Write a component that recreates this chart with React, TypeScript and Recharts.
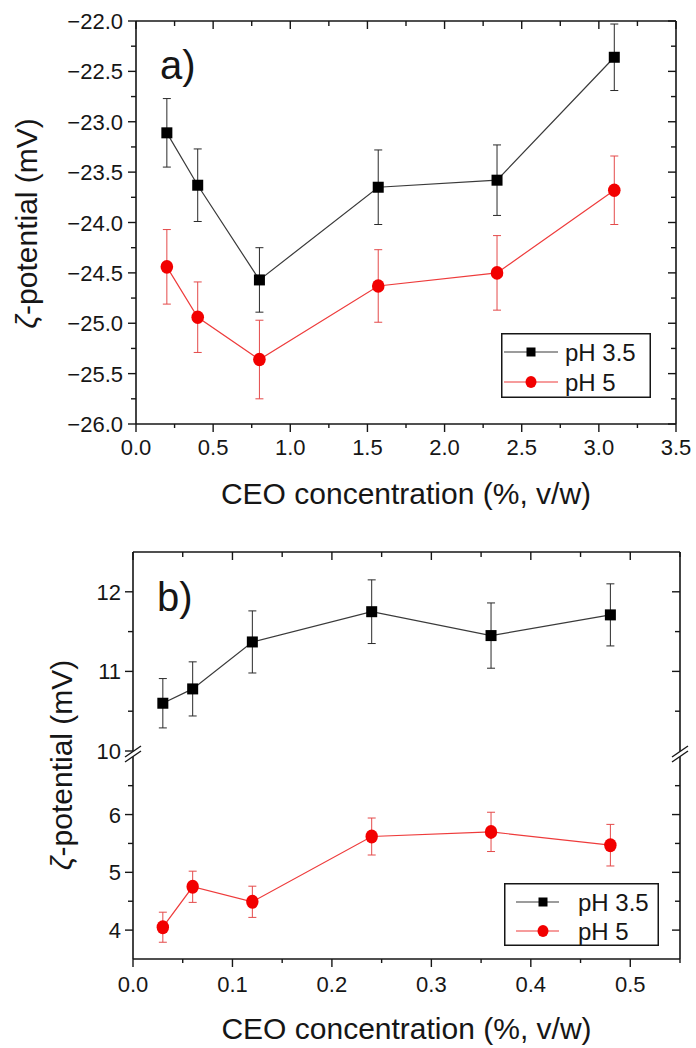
import React from 'react';
import { LineChart, Line, XAxis, YAxis, ErrorBar, Legend, Label } from 'recharts';

const FONT = '"Liberation Sans", Arial, Helvetica, sans-serif';
const INK = '#161616';

// ---------------- panel a data ----------------
const concA = [0.2, 0.4, 0.8, 1.57, 2.34, 3.1];
const zetaA_pH35 = [-23.11, -23.63, -24.57, -23.65, -23.58, -22.36];
const errA_pH35 = [0.34, 0.36, 0.32, 0.37, 0.35, 0.33];
const zetaA_pH5 = [-24.44, -24.94, -25.36, -24.63, -24.5, -23.68];
const errA_pH5 = [0.37, 0.35, 0.39, 0.36, 0.37, 0.34];

// ---------------- panel b data ----------------
const concB = [0.03, 0.06, 0.12, 0.24, 0.36, 0.48];
const zetaB_pH35 = [10.6, 10.78, 11.37, 11.75, 11.45, 11.71];
const errB_pH35 = [0.31, 0.34, 0.39, 0.4, 0.41, 0.39];
const zetaB_pH5 = [4.05, 4.75, 4.49, 5.62, 5.7, 5.47];
const errB_pH5 = [0.26, 0.27, 0.27, 0.32, 0.34, 0.36];

// ---------------- series & ticks ----------------
const seriesNames = ['pH 3.5', 'pH 5'];
const markerColors = ['#000000', '#f20000'];
const lineColors = ['#3a3a3a', '#ee3b3b'];
const errColors = ['#2a2a2a', '#e44a4a'];

const xTicksA = [0, 0.25, 0.5, 0.75, 1, 1.25, 1.5, 1.75, 2, 2.25, 2.5, 2.75, 3, 3.25, 3.5];
const yTicksA = [-26, -25.75, -25.5, -25.25, -25, -24.75, -24.5, -24.25, -24, -23.75, -23.5, -23.25, -23, -22.75, -22.5, -22.25, -22];
const xTicksB = [0, 0.05, 0.1, 0.15, 0.2, 0.25, 0.3, 0.35, 0.4, 0.45, 0.5, 0.55];
const yTicksBHigh = [10, 10.5, 11, 11.5, 12];
const yTicksBLow = [4, 4.5, 5, 5.5, 6, 6.5, 7.1];
const xDomainA = [0, 3.5];
const yDomainA = [-26, -22];
const xDomainB = [0, 0.55];
const yDomainBHigh = [10, 12.5];
const yDomainBLow = [3.5, 7.1];
const breakHigh = 10;
const breakLow = 7.1;

const rows = (xs: number[], ys: number[], es: number[]) => xs.map((x, i) => ({ x, y: ys[i], err: es[i] }));
const rowsA35 = rows(concA, zetaA_pH35, errA_pH35);
const rowsA5 = rows(concA, zetaA_pH5, errA_pH5);
const rowsB35 = rows(concB, zetaB_pH35, errB_pH35);
const rowsB5 = rows(concB, zetaB_pH5, errB_pH5);

const near = (v: number, step: number) => Math.abs(v / step - Math.round(v / step)) < 1e-6;
const same = (a: number, b: number) => Math.abs(a - b) < 1e-9;
const minus = (s: string) => s.replace('-', '\u2212');

// ---------------- tick renderers ----------------
const bottomTick = (step: number, dy: number, fmt: (v: number) => string) => (p: any) => {
  const v = p.payload.value;
  const major = near(v, step);
  return (
    <g>
      <line x1={p.x} x2={p.x} y1={p.y} y2={p.y + (major ? 8 : 4)} stroke={INK} strokeWidth={1.4} />
      {major ? (
        <text x={p.x} y={p.y + dy} textAnchor="middle" fontSize={22} fontFamily={FONT} fill={INK}>
          {fmt(v)}
        </text>
      ) : null}
    </g>
  );
};

const topTick = (step: number) => (p: any) => {
  const v = p.payload.value;
  const major = near(v, step);
  return <line x1={p.x} x2={p.x} y1={p.y} y2={p.y + (major ? 8 : 5)} stroke={INK} strokeWidth={1.4} />;
};

const BreakMark = ({ x, y }: { x: number; y: number }) => {
  const c = y + 3;
  return (
    <g>
      <polygon points={`${x - 8},${c + 3} ${x + 8},${c - 8} ${x + 8},${c - 3} ${x - 8},${c + 8}`} fill="#fff" />
      <line x1={x - 8} y1={c + 3} x2={x + 8} y2={c - 8} stroke={INK} strokeWidth={1.4} />
      <line x1={x - 8} y1={c + 8} x2={x + 8} y2={c - 3} stroke={INK} strokeWidth={1.4} />
    </g>
  );
};

const leftTick = (step: number, gap: number, fmt: (v: number) => string, breakAt?: number) => (p: any) => {
  const v = p.payload.value;
  if (breakAt !== undefined && same(v, breakAt)) return <BreakMark x={p.x} y={p.y} />;
  const major = near(v, step);
  return (
    <g>
      <line x1={p.x - (major ? 8 : 5)} x2={p.x} y1={p.y} y2={p.y} stroke={INK} strokeWidth={1.4} />
      {major ? (
        <text x={p.x - gap} y={p.y + 8} textAnchor="end" fontSize={22} fontFamily={FONT} fill={INK}>
          {fmt(v)}
        </text>
      ) : null}
    </g>
  );
};

const rightTick = (step: number, breakAt?: number, skip?: number) => (p: any) => {
  const v = p.payload.value;
  if (breakAt !== undefined && same(v, breakAt)) return <BreakMark x={p.x} y={p.y} />;
  if (skip !== undefined && same(v, skip)) return <g />;
  const major = near(v, step);
  return <line x1={p.x - (major ? 8 : 5)} x2={p.x} y1={p.y} y2={p.y} stroke={INK} strokeWidth={1.4} />;
};

// ---------------- markers ----------------
const squareDot = (size: number, color: string) => (p: any) =>
  p.cx == null ? <g /> : <rect x={p.cx - size / 2} y={p.cy - size / 2} width={size} height={size} fill={color} />;
const ellipseDot = (rx: number, ry: number, color: string) => (p: any) =>
  p.cx == null ? <g /> : <ellipse cx={p.cx} cy={p.cy} rx={rx} ry={ry} fill={color} />;

// ---------------- legend ----------------
const LegendBox = ({ w, h, ys, lx1, lx2, mx, tx }: { w: number; h: number; ys: number[]; lx1: number; lx2: number; mx: number; tx: number }) => (
  <svg width={w} height={h} style={{ display: 'block' }}>
    <rect x={0.75} y={0.75} width={w - 1.5} height={h - 1.5} fill="#fff" stroke={INK} strokeWidth={1.5} />
    {seriesNames.map((name, i) => (
      <g key={name}>
        <line x1={lx1} x2={lx2} y1={ys[i]} y2={ys[i]} stroke={lineColors[i]} strokeWidth={1.2} />
        {i === 0 ? (
          <rect x={mx - 4.5} y={ys[i] - 4.5} width={9} height={9} fill={markerColors[i]} />
        ) : (
          <ellipse cx={mx} cy={ys[i]} rx={5.5} ry={6} fill={markerColors[i]} />
        )}
        <text x={tx} y={ys[i] + 8.5} fontSize={24} fontFamily={FONT} fill={INK}>
          {name}
        </text>
      </g>
    ))}
  </svg>
);

const axisLine = { stroke: INK, strokeWidth: 1.6 };

const yTitle = (bx: number, shift: number) => (lp: any) => {
  const vb = lp.viewBox || { x: 0, y: 0, width: 0, height: 0 };
  const cy = vb.y + vb.height / 2 + shift;
  return (
    <text transform={`translate(${bx}, ${cy}) rotate(-90)`} textAnchor="middle" fontSize={30} fontFamily={FONT} fill={INK}>
      <tspan fontStyle="italic">ζ</tspan>-potential (mV)
    </text>
  );
};
const xTitle = (dy: number) => (lp: any) => {
  const vb = lp.viewBox || { x: 0, y: 0, width: 0, height: 0 };
  return (
    <text x={vb.x + vb.width / 2} y={vb.y + dy} textAnchor="middle" fontSize={30} fontFamily={FONT} fill={INK}>
      CEO concentration (%, v/w)
    </text>
  );
};
const panelTag = (tag: string, dx: number, dy: number) => (lp: any) => {
  const vb = lp.viewBox || { x: 0, y: 0, width: 0, height: 0 };
  return (
    <text x={vb.x + dx} y={vb.y + dy} fontSize={40} fontFamily={FONT} fill={INK}>
      {tag}
    </text>
  );
};

export default function App() {
  return (
    <div style={{ position: 'absolute', left: 0, top: 0, width: 696, height: 1048, background: '#fff' }}>
      {/* ---------- panel a ---------- */}
      <div style={{ position: 'absolute', left: 0, top: 0 }}>
        <LineChart width={696} height={520} margin={{ top: 20, right: 19, bottom: 0, left: 0 }}>
          <XAxis xAxisId="b" type="number" dataKey="x" domain={xDomainA} ticks={xTicksA} interval={0} allowDataOverflow
            height={96} tickSize={0} tickMargin={0} tickLine={false} axisLine={axisLine}
            tick={bottomTick(0.5, 31, (v) => v.toFixed(1))}>
            <Label content={xTitle(80)} />
          </XAxis>
          <XAxis xAxisId="t" orientation="top" type="number" dataKey="x" domain={xDomainA} ticks={xTicksA} interval={0} allowDataOverflow
            height={1} tickSize={0} tickMargin={0} tickLine={false} axisLine={axisLine} tick={topTick(0.5)}>
            <Label content={panelTag('a)', 24, 59)} />
          </XAxis>
          <YAxis yAxisId="l" type="number" domain={yDomainA} ticks={yTicksA} interval={0} allowDataOverflow
            width={136} tickSize={0} tickMargin={0} tickLine={false} axisLine={axisLine}
            tick={leftTick(0.5, 13, (v) => minus(v.toFixed(1)))}>
            <Label content={yTitle(37, 1)} />
          </YAxis>
          <YAxis yAxisId="r" orientation="right" type="number" domain={yDomainA} ticks={yTicksA} interval={0} allowDataOverflow
            width={1} tickSize={0} tickMargin={0} tickLine={false} axisLine={axisLine} tick={rightTick(0.5)} />
          <Line data={rowsA35} name={seriesNames[0]} dataKey="y" xAxisId="b" yAxisId="l" stroke={lineColors[0]} strokeWidth={1.2}
            dot={squareDot(11, markerColors[0])} activeDot={false} isAnimationActive={false}>
            <ErrorBar dataKey="err" direction="y" width={4} stroke={errColors[0]} strokeWidth={1} />
          </Line>
          <Line data={rowsA5} name={seriesNames[1]} dataKey="y" xAxisId="b" yAxisId="l" stroke={lineColors[1]} strokeWidth={1.2}
            dot={ellipseDot(6.3, 6.8, markerColors[1])} activeDot={false} isAnimationActive={false}>
            <ErrorBar dataKey="err" direction="y" width={4} stroke={errColors[1]} strokeWidth={1} />
          </Line>
          <Legend layout="vertical" align="center" verticalAlign="middle"
            wrapperStyle={{ left: 501, top: 333, width: 150, height: 65 }}
            content={() => <LegendBox w={150} h={65} ys={[19, 49]} lx1={3} lx2={57} mx={30} tx={64} />} />
        </LineChart>
      </div>

      {/* ---------- panel b, upper segment ---------- */}
      <div style={{ position: 'absolute', left: 0, top: 530 }}>
        <LineChart width={696} height={241} margin={{ top: 21, right: 15, bottom: 20, left: 0 }}>
          <XAxis xAxisId="t" orientation="top" type="number" dataKey="x" domain={xDomainB} ticks={xTicksB} interval={0} allowDataOverflow
            height={1} tickSize={0} tickMargin={0} tickLine={false} axisLine={axisLine} tick={topTick(0.1)}>
            <Label content={panelTag('b)', 24, 60)} />
          </XAxis>
          <YAxis yAxisId="l" type="number" domain={yDomainBHigh} ticks={yTicksBHigh} interval={0} allowDataOverflow
            width={133} tickSize={0} tickMargin={0} tickLine={false} axisLine={axisLine}
            tick={leftTick(1, 12, (v) => String(v))} />
          <YAxis yAxisId="r" orientation="right" type="number" domain={yDomainBHigh} ticks={yTicksBHigh} interval={0} allowDataOverflow
            width={1} tickSize={0} tickMargin={0} tickLine={false} axisLine={axisLine} tick={rightTick(1, undefined, breakHigh)} />
          <Line data={rowsB35} name={seriesNames[0]} dataKey="y" xAxisId="t" yAxisId="l" stroke={lineColors[0]} strokeWidth={1.2}
            dot={squareDot(11, markerColors[0])} activeDot={false} isAnimationActive={false}>
            <ErrorBar dataKey="err" direction="y" width={4} stroke={errColors[0]} strokeWidth={1} />
          </Line>
        </LineChart>
      </div>

      {/* ---------- panel b, lower segment ---------- */}
      <div style={{ position: 'absolute', left: 0, top: 530 }}>
        <LineChart width={696} height={518} margin={{ top: 221, right: 15, bottom: 0, left: 0 }}>
          <XAxis xAxisId="b" type="number" dataKey="x" domain={xDomainB} ticks={xTicksB} interval={0} allowDataOverflow
            height={89} tickSize={0} tickMargin={0} tickLine={false} axisLine={axisLine}
            tick={bottomTick(0.1, 33, (v) => v.toFixed(1))}>
            <Label content={xTitle(80)} />
          </XAxis>
          <YAxis yAxisId="l" type="number" domain={yDomainBLow} ticks={yTicksBLow} interval={0} allowDataOverflow
            width={133} tickSize={0} tickMargin={0} tickLine={false} axisLine={axisLine}
            tick={leftTick(1, 12, (v) => String(v), breakLow)}>
            <Label content={yTitle(72, -90)} />
          </YAxis>
          <YAxis yAxisId="r" orientation="right" type="number" domain={yDomainBLow} ticks={yTicksBLow} interval={0} allowDataOverflow
            width={1} tickSize={0} tickMargin={0} tickLine={false} axisLine={axisLine} tick={rightTick(1, breakLow)} />
          <Line data={rowsB5} name={seriesNames[1]} dataKey="y" xAxisId="b" yAxisId="l" stroke={lineColors[1]} strokeWidth={1.2}
            dot={ellipseDot(6.2, 7, markerColors[1])} activeDot={false} isAnimationActive={false}>
            <ErrorBar dataKey="err" direction="y" width={4} stroke={errColors[1]} strokeWidth={1} />
          </Line>
          <Legend layout="vertical" align="center" verticalAlign="middle"
            wrapperStyle={{ left: 504, top: 353, width: 155, height: 63 }}
            content={() => <LegendBox w={155} h={63} ys={[19, 48]} lx1={12} lx2={55} mx={39} tx={74} />} />
        </LineChart>
      </div>
    </div>
  );
}
